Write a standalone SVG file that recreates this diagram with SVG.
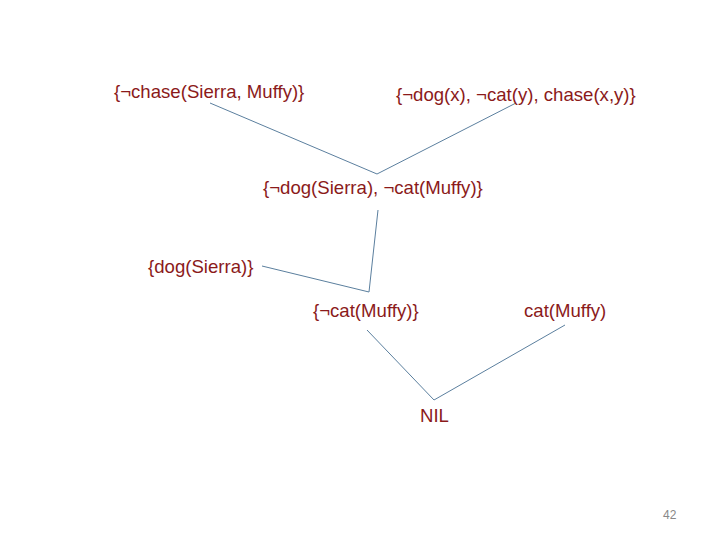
<svg xmlns="http://www.w3.org/2000/svg" width="720" height="540" viewBox="0 0 720 540">
<style>
.t{font-family:"Liberation Sans",Arial,sans-serif;font-size:18.6px;fill:#8b1a1a}
.c line{stroke:#5b7f9e;stroke-width:1}
.pg{font-family:"Liberation Sans",Arial,sans-serif;font-size:12px;fill:#888}
</style>
<rect width="720" height="540" fill="#fff"/>
<g id="connectors" class="c">
<line x1="210" y1="103" x2="377" y2="174"/>
<line x1="516" y1="103" x2="377" y2="174"/>
<line x1="378" y1="210" x2="369" y2="292"/>
<line x1="262" y1="266" x2="369" y2="292"/>
<line x1="367" y1="330" x2="434" y2="400"/>
<line x1="565" y1="325" x2="434" y2="400"/>
</g>
<g id="n1"><text class="t" x="114" y="98">{¬chase(Sierra, Muffy)}</text></g>
<g id="n2"><text class="t" x="396" y="101">{¬dog(x), ¬cat(y), chase(x,y)}</text></g>
<g id="n3"><text class="t" x="263" y="194">{¬dog(Sierra), ¬cat(Muffy)}</text></g>
<g id="n4"><text class="t" x="148" y="273">{dog(Sierra)}</text></g>
<g id="n5"><text class="t" x="313" y="317">{¬cat(Muffy)}</text></g>
<g id="n6"><text class="t" x="524" y="317">cat(Muffy)</text></g>
<g id="n7"><text class="t" x="420" y="422">NIL</text></g>
<text class="pg" x="663" y="519">42</text>
</svg>
